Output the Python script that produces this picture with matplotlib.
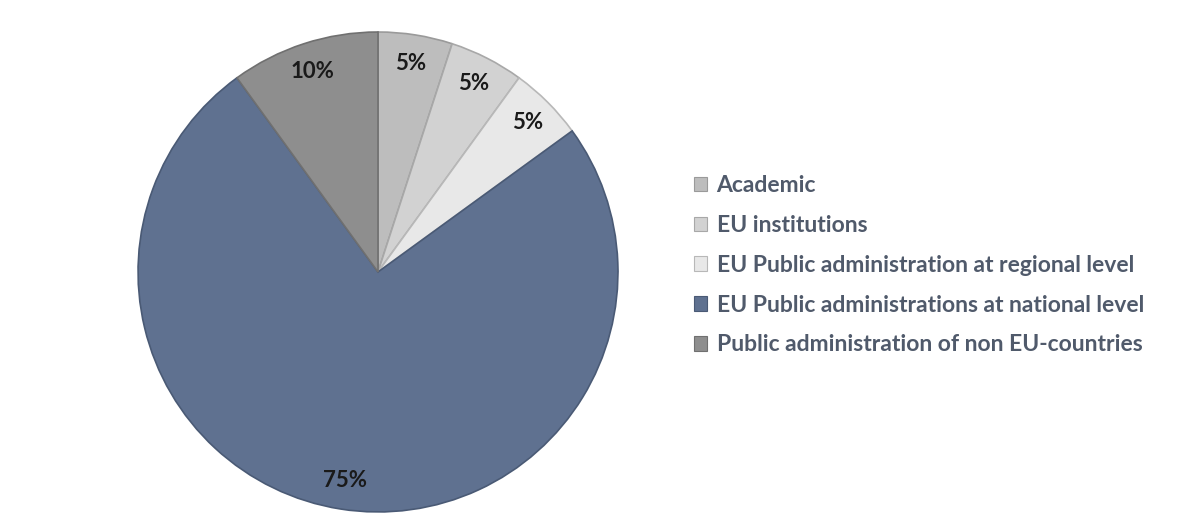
import matplotlib
matplotlib.use("Agg")
import matplotlib.pyplot as plt
from matplotlib.patches import Patch

categories = ["Academic", "EU institutions", "EU Public administration at regional level",
              "EU Public administrations at national level", "Public administration of non EU-countries"]
values = [5, 5, 5, 75, 10]
colors = ["#bdbdbd", "#d2d2d2", "#e8e8e8", "#5f7190", "#8e8e8e"]
edges = ["#9a9a9a", "#a8a8a8", "#b8b8b8", "#4a5a75", "#707070"]

fig = plt.figure(figsize=(11.85, 5.31), dpi=100)
ax = fig.add_axes([0.1165, 0.0358, 0.405, 0.904])

wedges, texts, autotexts = ax.pie(values, colors=colors, startangle=90, counterclock=False,
                                  autopct=lambda p: f"{p:.0f}%", pctdistance=0.88,
                                  wedgeprops=dict(linewidth=1.2),
                                  textprops=dict(fontsize=16, fontweight="bold", color="#1a1a1a",
                                                 family="Lato"))
for w, e in zip(wedges, edges):
    w.set_edgecolor(e)
ax.set_xlim(-1.0, 1.0)
ax.set_ylim(-1.0, 1.0)
ax.set_aspect("equal")

handles = [Patch(facecolor=c, edgecolor=e, linewidth=0.8) for c, e in zip(colors, edges)]
leg = fig.legend(handles, categories, loc="upper left", bbox_to_anchor=(0.568, 0.709),
                 frameon=False, prop=dict(family="Lato", weight="bold", size=16.5),
                 labelcolor="#505a6b", handlelength=0.6, handleheight=0.6,
                 handletextpad=0.4, labelspacing=0.82)

fig.savefig("out.png", dpi=100)
